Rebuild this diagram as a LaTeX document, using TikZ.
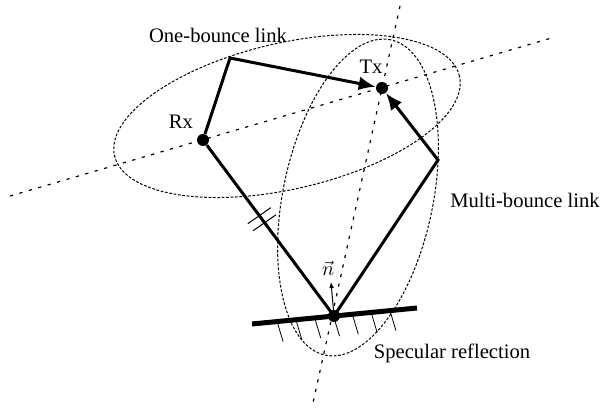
\documentclass[tikz,border=0pt]{standalone}
\usepackage{fontspec}
\setmainfont{Liberation Serif}
\usetikzlibrary{calc,arrows.meta}

\begin{document}
\begin{tikzpicture}[x=0.5pt, y=0.5pt,
    every node/.style={font=\fontsize{10.3}{12}\selectfont},
    dot/.style={circle, fill, inner sep=0pt, minimum size=6pt},
    link/.style={line width=1.5pt, -{Latex[length=8.5pt,width=7pt]}},
    axisline/.style={line width=0.6pt, dash pattern=on 1.6pt off 3.3pt},
    zone/.style={line width=0.5pt, dash pattern=on 1.35pt off 0.85pt}]
    \useasboundingbox (0,0) rectangle (604,410);

    % Define the points
    \node[dot] (Rx) at (203,270) {};
    \node[dot] (Tx) at (382,322) {};
    \node[dot] (R) at (334,94) {};
    \coordinate (C1) at (230,352);
    \coordinate (C2) at (438,250);

    % Axes through Rx, Tx and the wall
    \coordinate (a1) at (10,214);
    \coordinate (a2) at (555,373);
    \coordinate (b1) at (400,404);
    \coordinate (b2) at (313,7);
    \draw[axisline] (a1) -- (a2);
    \draw[axisline] (b1) -- (b2);

    % Ellipses
    \draw[zone, shift={(287,294)}, rotate=13] (0,0) ellipse (88.5pt and 36.5pt);
    \draw[zone, shift={(358,212.5)}, rotate=78.3] (0,0) ellipse (80.5pt and 37.5pt);

    % Wall
    \coordinate (w1) at (252,86);
    \coordinate (w2) at (417,102);
    \foreach \s in {0.152,0.266,0.38,0.494,0.608,0.722,0.836}
        \draw[line width=0.4pt] ($(w1)!\s!(w2)$) -- ++(6,-20);
    \draw[line width=2.5pt] (w1) -- (w2);

    % Links
    \draw[link] (Rx) -- (C1) -- (Tx);
    \draw[link] (Rx) -- (R.center) -- (C2) -- (Tx);
    \foreach \t in {0.43,0.47}
        \draw[line width=0.5pt] ($(Rx)!\t!(R)$) ++(-11.5,-8) -- ++(23,16);

    % Normal
    \coordinate (ntip) at (331,128);
    \draw[line width=0.5pt, -{Latex[length=3pt,width=2.4pt]}] (R.center) -- (ntip);
    \node (nlabel) at (328,142) {$\vec{n}$};

    % Labels
    \node (onebounce) at (218,375) {One-bounce link};
    \node (rxlabel) at (181,288) {Rx};
    \node (txlabel) at (371,343) {Tx};
    \node (multibounce) at (525,210) {Multi-bounce link};
    \node (specular) at (452,57) {Specular reflection};
\end{tikzpicture}
\end{document}
